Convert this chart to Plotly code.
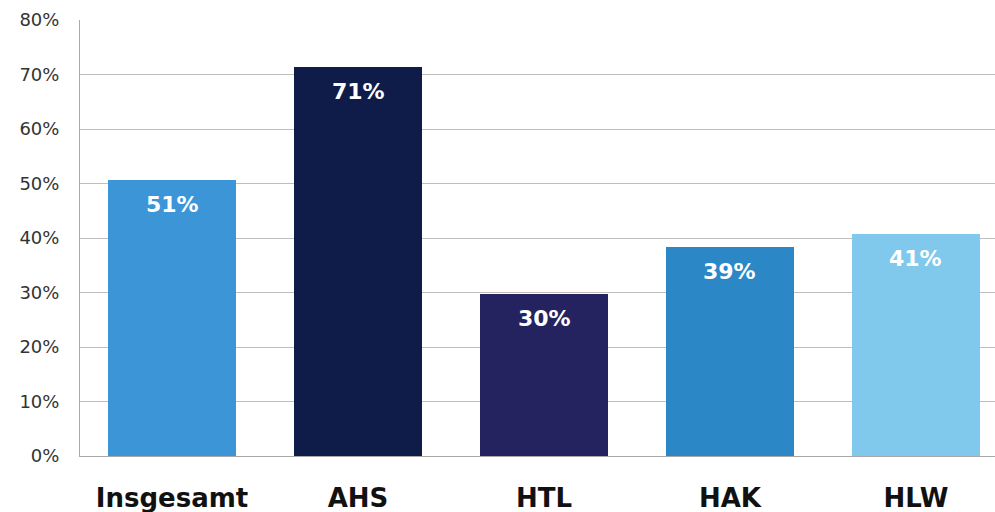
import plotly.graph_objects as go

categories = ["Insgesamt", "AHS", "HTL", "HAK", "HLW"]
values = [50.7, 71.3, 29.8, 38.3, 40.8]
labels = ["51%", "71%", "30%", "39%", "41%"]
colors = ["#3b95d6", "#0f1c4a", "#25235f", "#2b87c6", "#80c8ec"]
ytick_vals = [0, 10, 20, 30, 40, 50, 60, 70, 80]
ytick_text = [f"{v}%" for v in ytick_vals]

xpos = list(range(len(categories)))

fig = go.Figure()
fig.add_trace(go.Bar(
    x=xpos, y=values, width=0.688,
    marker=dict(color=colors, line=dict(width=0)),
    hoverinfo="skip",
))

for xi, v, t in zip(xpos, values, labels):
    fig.add_annotation(
        x=xi, y=v, xref="x", yref="y", text=t, showarrow=False,
        yanchor="top", yshift=-10,
        font=dict(family="DejaVu Sans", size=22, color="white", weight="bold"),
    )

fig.update_layout(
    width=995, height=512,
    margin=dict(l=80, r=0, t=20, b=56, autoexpand=False),
    paper_bgcolor="white", plot_bgcolor="white",
    showlegend=False, bargap=0,
    xaxis=dict(
        range=[-0.495, 4.425],
        tickmode="array", tickvals=xpos, ticktext=categories,
        tickfont=dict(family="DejaVu Sans", size=26, color="#111", weight="bold"),
        ticks="", ticklabelstandoff=19, automargin=False,
        showgrid=False, zeroline=False,
        showline=True, linecolor="#aaaaaa", linewidth=1,
    ),
    yaxis=dict(
        range=[0, 80],
        tickmode="array", tickvals=ytick_vals, ticktext=ytick_text,
        tickfont=dict(family="DejaVu Sans", size=18, color="#333"),
        ticks="", ticklabelstandoff=16, automargin=False,
        showgrid=True, gridcolor="#bdbdbd", gridwidth=1,
        zeroline=False,
        showline=True, linecolor="#aaaaaa", linewidth=1,
    ),
)

fig.write_html("out.html")
